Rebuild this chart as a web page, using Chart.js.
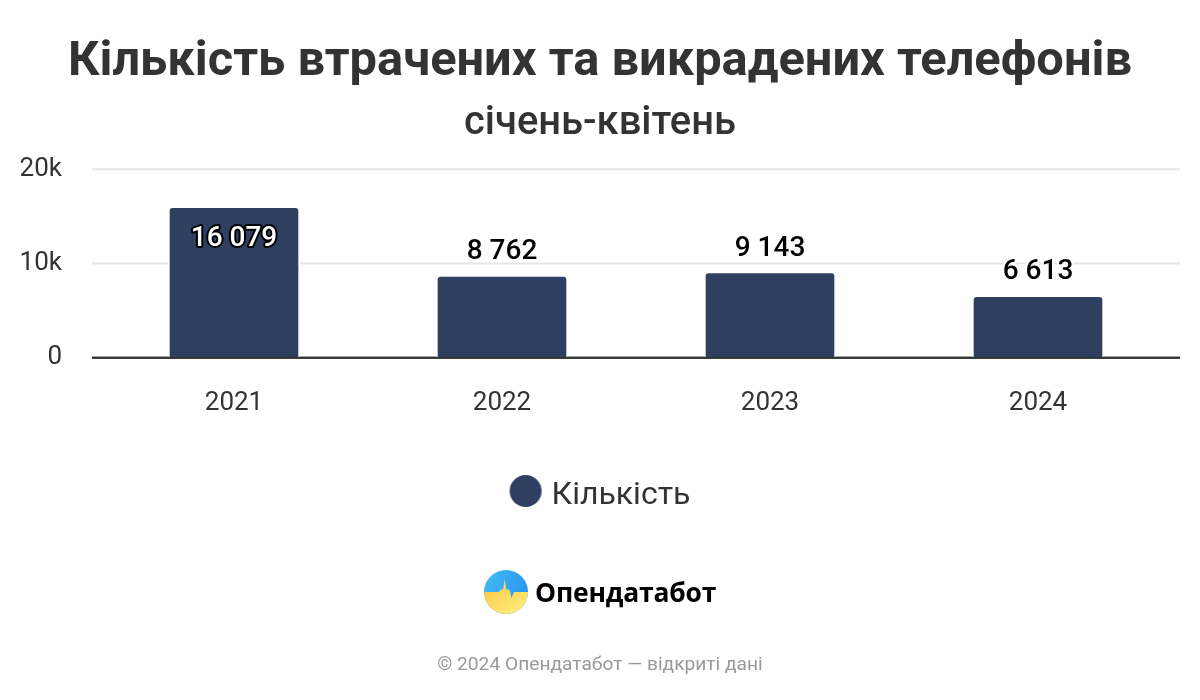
<!DOCTYPE html>
<html lang="uk"><head><meta charset="utf-8">
<script src="https://cdn.jsdelivr.net/npm/chart.js@4"></script>
<style>
html,body{margin:0;padding:0;background:#fff;width:1200px;height:700px;overflow:hidden}
#wrap{position:relative;width:1200px;height:700px}
canvas#c{position:absolute;left:0;top:0}
.brand{position:absolute;left:535px;top:572px;font:700 26.5px "Open Sans",sans-serif;color:#000;line-height:40px;white-space:nowrap;letter-spacing:-.2px}
.foot{position:absolute;left:0;width:1200px;top:653px;text-align:center;font:19.2px Roboto,sans-serif;color:#999;line-height:22px}
svg.logo{position:absolute;left:484px;top:570px}
</style></head><body>
<div id="wrap">
<canvas id="c" width="1200" height="700"></canvas>
<svg class="logo" width="44" height="44" viewBox="0 0 44 44">
<defs>
<linearGradient id="sky" x1="0" y1="0" x2="1" y2="0.4"><stop offset="0" stop-color="#43bdf5"/><stop offset="1" stop-color="#2a96ef"/></linearGradient>
<linearGradient id="sun" x1="0" y1="0" x2="0.9" y2="1"><stop offset="0" stop-color="#f7c443"/><stop offset="1" stop-color="#fff07e"/></linearGradient>
<clipPath id="cc"><circle cx="22" cy="22" r="22"/></clipPath></defs>
<g clip-path="url(#cc)"><rect width="44" height="44" fill="url(#sky)"/>
<path d="M0 22H15L17 19L19 20L20.5 9L22.5 20L24 19L26 21L27.5 28L30 22H44V44H0Z" fill="url(#sun)"/></g></svg>
<div class="brand">Опендатабот</div>
<div class="foot">© 2024 Опендатабот — відкриті дані</div>
</div>
<script>
const categories = ['2021','2022','2023','2024'];
const seriesName = 'Кількість';
const seriesValues = [16079, 8762, 9143, 6613];
const yTicks = [0, 10000, 20000];
const yTickLabels = ['0','10k','20k'];
const titleText = 'Кількість втрачених та викрадених телефонів';
const subtitleText = 'січень-квітень';
const barColor = '#2e3f5f';

const fmt = v => String(v).replace(/\B(?=(\d{3})+$)/g,' ');

const extendedGrid = {
  id:'extendedGrid',
  beforeDatasetsDraw(chart){
    const {ctx,chartArea:a,scales:{y}} = chart;
    ctx.save();
    yTicks.forEach(v=>{
      const py = y.getPixelForValue(v);
      ctx.beginPath();
      ctx.moveTo(a.left-8,py); ctx.lineTo(a.right+8,py);
      ctx.lineWidth = 2; ctx.strokeStyle = v===0 ? '#333333' : '#e6e6e6';
      ctx.stroke();
    });
    ctx.restore();
  },
  afterDatasetsDraw(chart){
    const {ctx,chartArea:a,scales:{y}} = chart;
    const py = y.getPixelForValue(0);
    ctx.save();
    ctx.beginPath(); ctx.moveTo(a.left-8,py); ctx.lineTo(a.right+8,py);
    ctx.lineWidth=2; ctx.strokeStyle='#333333'; ctx.stroke();
    ctx.restore();
  }
};
const valueLabels = {
  id:'valueLabels',
  afterDatasetsDraw(chart){
    const {ctx} = chart;
    const bars = chart.getDatasetMeta(0).data;
    ctx.save();
    ctx.font = '500 28px Roboto, sans-serif';
    ctx.textAlign='center'; ctx.textBaseline='middle'; ctx.lineJoin='round';
    bars.forEach((b,i)=>{
      const inside = seriesValues[i] > 12000;
      const ly = inside ? b.y + 33 : b.y - 23;
      ctx.lineWidth = 4;
      ctx.strokeStyle = inside ? '#000000' : '#ffffff';
      ctx.fillStyle = inside ? '#ffffff' : '#000000';
      ctx.strokeText(fmt(seriesValues[i]), b.x, ly);
      ctx.fillText(fmt(seriesValues[i]), b.x, ly);
    });
    ctx.restore();
  }
};

function legendMarker(){
  const cv = document.createElement('canvas');
  cv.width = 40; cv.height = 44;
  const g = cv.getContext('2d');
  g.fillStyle = barColor;
  g.beginPath(); g.arc(23,17,16,0,Math.PI*2); g.fill();
  return cv;
}

Chart.defaults.font.family = 'Roboto, sans-serif';
new Chart(document.getElementById('c'),{
  type:'bar',
  data:{labels:categories,datasets:[{label:seriesName,data:seriesValues,backgroundColor:barColor,
    borderColor:'#ffffff',borderWidth:2,borderRadius:{topLeft:5,topRight:5},borderSkipped:'bottom',
    barThickness:132}]},
  plugins:[extendedGrid,valueLabels],
  options:{
    responsive:false,animation:false,
    layout:{padding:{left:0,right:0,top:34,bottom:178}},
    scales:{
      x:{grid:{display:false},border:{display:false},
         afterFit(s){s.height+=19;},
         ticks:{color:'#333333',font:{size:26},padding:22,maxRotation:0}},
      y:{min:0,max:20000,afterBuildTicks(s){s.ticks=yTicks.map(value=>({value}));},
         afterFit(s){s.width=100;},
         grid:{display:false},border:{display:false},
         ticks:{color:'#333333',font:{size:26},padding:30,
           callback:v=>yTickLabels[yTicks.indexOf(v)]}},
      rightSpacer:{position:'right',afterFit(s){s.width=28;},
         grid:{display:false},border:{display:false},ticks:{display:false}}
    },
    plugins:{
      title:{display:true,text:titleText,color:'#333333',font:{size:48.8,weight:'700'},padding:{top:0,bottom:7.5}},
      subtitle:{display:true,text:subtitleText,color:'#333333',font:{size:39.9,weight:'500'},padding:{top:0,bottom:21.3}},
      legend:{display:true,position:'bottom',
        labels:{usePointStyle:true,pointStyleWidth:26,boxHeight:22,color:'#333333',font:{size:32},padding:20,
          generateLabels:()=>[{text:seriesName,fillStyle:barColor,strokeStyle:barColor,fontColor:'#333333',lineWidth:0,
            pointStyle:legendMarker(),hidden:false,datasetIndex:0}]}},
      tooltip:{enabled:false}
    }
  }
});
</script>
</body></html>
